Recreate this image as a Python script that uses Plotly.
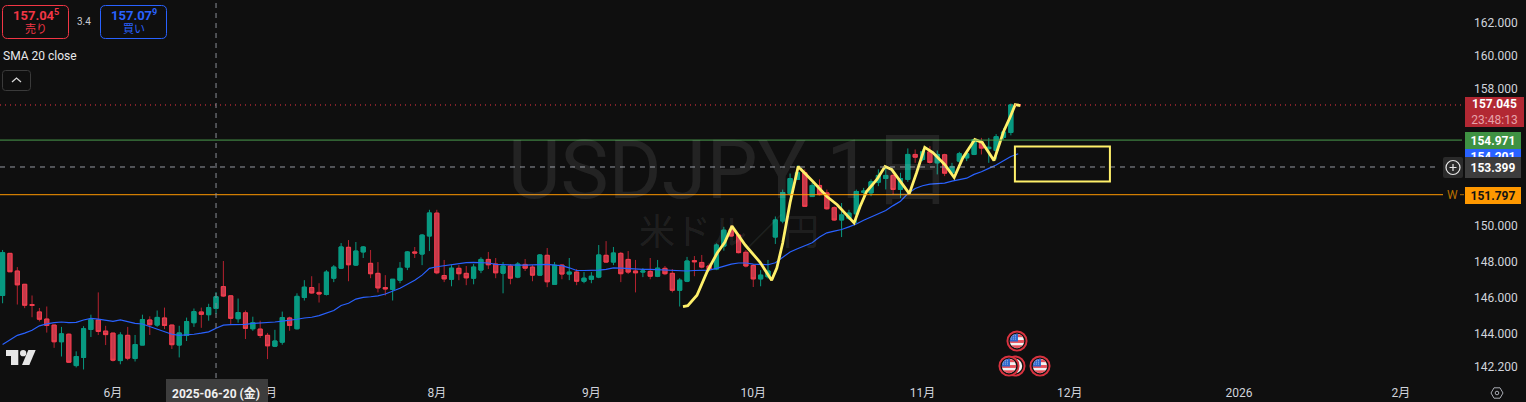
import base64
import plotly.graph_objects as go

W, H = 1526, 402
PW, PH = 1462, 378

highs = [148.65,148.47,147.69,146.73,146.11,145.42,145.50,144.50,144.38,144.02,143.05,144.42,145.05,146.28,144.44,144.05,144.09,144.38,143.94,145.05,
144.96,145.28,145.44,144.50,144.44,144.89,145.39,145.44,145.65,146.30,148.03,146.11,145.94,145.28,144.94,144.72,144.05,144.22,145.22,144.94,
146.23,146.96,147.18,146.79,147.52,147.80,149.04,149.21,149.10,148.87,148.65,147.97,147.24,147.01,147.97,148.59,148.82,149.55,150.93,150.93,
148.09,147.80,147.80,147.75,147.86,148.24,148.54,148.20,147.97,147.86,147.97,148.14,147.80,148.42,148.76,147.97,147.86,148.20,147.58,147.41,
147.41,148.93,149.15,148.82,148.54,148.59,148.09,147.63,148.20,148.09,147.75,147.58,147.07,148.26,148.31,148.37,147.90,149.02,149.96,150.06,
149.59,148.65,147.86,147.52,148.09,150.55,152.09,153.02,153.49,153.26,152.48,152.68,152.09,151.13,151.32,150.93,152.09,152.19,152.68,153.26,
153.45,153.16,153.06,154.48,154.42,154.42,154.61,154.36,154.17,153.64,154.28,154.32,155.00,155.10,155.10,155.32,155.67,157.13,157.13]
body_tops = [148.50,148.46,147.47,146.73,145.61,145.20,144.81,144.48,144.00,143.98,142.77,144.28,144.78,144.76,144.15,144.04,143.94,143.92,143.42,144.78,
144.76,144.90,144.87,144.48,144.05,144.67,145.22,145.20,145.44,146.04,146.60,146.09,145.17,145.15,144.61,144.26,143.92,143.61,144.89,144.87,
146.06,146.57,146.55,146.28,147.41,147.69,148.82,148.80,148.59,148.82,147.90,147.34,146.55,147.01,147.62,148.54,148.54,149.49,150.75,150.74,
147.22,147.63,147.62,147.34,147.69,148.12,148.12,147.86,147.75,147.75,147.86,147.84,147.69,148.37,148.35,147.80,147.80,147.41,147.41,147.07,
147.18,148.37,148.35,148.48,148.46,148.12,147.47,147.47,147.45,147.63,147.62,147.34,146.96,148.03,148.05,147.95,147.75,148.93,149.77,149.81,
149.49,148.52,147.78,147.24,147.47,150.35,151.92,152.73,153.06,153.06,152.33,152.33,151.90,151.05,150.64,150.74,151.98,152.00,152.54,152.91,
152.91,152.91,152.73,154.13,154.13,154.28,154.28,154.13,154.11,153.43,154.17,154.17,155.00,154.85,154.55,155.17,155.44,157.05,157.07]
body_bottoms = [146.11,147.43,146.70,145.57,145.56,144.80,144.46,143.57,143.57,142.46,142.28,142.72,144.24,144.13,143.96,142.57,142.55,142.68,142.66,143.39,
144.50,144.48,144.46,143.41,143.39,143.91,144.61,145.07,145.05,145.39,146.08,144.85,144.83,144.30,144.28,143.91,143.35,143.33,143.55,144.46,
144.28,146.00,146.25,146.19,146.17,147.07,147.63,147.82,147.80,148.54,147.32,146.53,146.47,146.45,146.96,147.69,148.48,148.42,149.44,147.37,
147.03,147.01,147.32,147.09,147.07,147.52,147.82,147.37,147.35,147.07,147.13,147.63,147.24,147.24,146.87,146.73,147.30,147.30,146.90,146.90,
147.01,147.13,147.97,147.97,147.32,147.41,147.37,147.41,147.18,147.18,147.32,146.40,146.40,146.90,147.99,147.69,147.56,147.58,148.87,149.44,
148.50,147.75,147.03,147.03,147.15,149.38,150.29,151.86,152.68,151.13,151.69,151.80,150.99,150.35,150.35,150.45,150.70,151.94,151.90,152.52,
152.73,152.10,152.10,152.68,153.97,153.84,153.66,153.64,153.04,153.06,153.74,153.93,154.13,154.50,154.47,154.36,155.13,155.42,157.03]
lows = [145.68,147.42,145.61,145.41,144.91,144.68,144.07,143.24,142.77,142.42,142.18,142.07,143.83,143.94,143.39,142.50,142.35,142.57,142.50,143.39,
143.94,144.38,144.26,143.18,142.72,143.61,144.38,144.33,144.72,145.09,146.02,144.50,144.61,143.72,144.17,143.78,142.63,143.28,143.41,144.17,
144.24,145.83,146.21,145.72,146.11,146.85,147.58,146.90,147.75,148.20,147.07,146.28,146.11,145.83,146.79,147.52,148.20,147.80,148.59,147.29,
146.85,146.62,146.96,146.68,146.73,147.35,147.58,147.07,146.23,146.73,147.07,147.47,146.90,147.24,146.57,146.73,147.01,146.96,146.68,146.79,
146.79,147.07,147.92,147.80,146.85,147.30,146.28,147.13,147.01,147.13,147.24,146.28,145.50,146.85,147.18,147.62,147.52,147.52,148.61,149.40,
148.46,147.67,146.58,146.62,147.05,148.99,150.16,151.71,152.68,151.09,151.67,151.75,150.93,150.29,149.38,150.35,150.16,151.61,151.71,152.29,
152.10,151.81,151.61,152.54,153.64,153.74,153.59,152.97,152.87,152.97,153.64,153.74,154.09,154.13,153.64,153.84,155.00,155.25,157.02]
# G = close above open, R = close below open
directions = ("GRRRRRRRGRGGGRRRGRGGRGRRGGGRGGRRGRGRRGGRGGRRGGGRGGRRRGGGRGGRRGRRGGRRGRGRRGRGRGRGGGRGRRRGRGRRGGRRRGGRRRRGGGGGGRGRRRGGGGGGGRGGRGRGRGGGGRGGGGR")
sma_20 = [143.42,143.65,143.92,144.04,144.20,144.44,144.55,144.61,144.65,144.61,144.63,144.76,144.85,144.81,144.74,144.68,144.76,144.68,144.57,144.54,
144.39,144.26,144.13,143.98,143.92,143.94,143.98,144.04,144.11,144.31,144.48,144.50,144.50,144.52,144.57,144.59,144.61,144.65,144.70,144.74,
144.80,144.87,144.91,145.00,145.13,145.28,145.56,145.68,145.91,146.00,146.04,146.09,146.19,146.36,146.51,146.73,146.96,147.24,147.62,147.71,
147.77,147.86,147.90,147.94,147.95,147.95,147.92,147.84,147.82,147.79,147.80,147.80,147.82,147.86,147.84,147.80,147.77,147.65,147.50,147.50,
147.50,147.52,147.56,147.65,147.63,147.60,147.58,147.56,147.56,147.54,147.52,147.50,147.48,147.47,147.50,147.50,147.52,147.62,147.75,147.86,
147.92,147.92,147.86,147.84,147.82,147.93,148.24,148.54,148.72,148.87,149.06,149.38,149.62,149.72,149.81,149.96,150.12,150.33,150.51,150.72,
150.89,151.17,151.42,151.86,152.15,152.31,152.41,152.44,152.46,152.58,152.66,152.75,152.97,153.12,153.32,153.51,153.76,154.01,154.17]
bar_index = list(range(len(highs)))

zigzag_bars = [92.45,93.1,94.35,95.7,97.1,98.15,99.1,100.9,102.9,104.5,105.2,106.0,107.0,107.5,108.1,110.1,112.0,113.4,115.7,116.5,117.4,118.8,119.9,120.8,123.2,124.2,125.3,126.4,128.0,129.3,130.5,132.1,133.1,134.7,136.0,136.9,137.6,138.3]
zigzag_prices = [145.50,145.55,146.12,147.41,148.48,149.10,150.00,148.93,147.97,146.96,147.64,149.04,151.34,152.21,153.43,152.56,151.69,151.22,150.18,151.11,151.98,152.68,153.43,153.26,151.86,153.08,154.54,154.24,153.55,152.79,153.95,155.00,154.83,153.78,155.46,156.32,157.07,157.01]
box_bars = [137.55, 150.46]
box_prices = [152.56, 154.59]

current_price = 157.045
green_level = 154.971
sma_label = 154.201
cross_price = 153.399
weekly_level = 151.797
cross_bar = 29

y_tick_values = [162, 160, 158, 150, 148, 146, 144, 142.2]
y_tick_labels = ["162.000", "160.000", "158.000", "150.000", "148.000", "146.000", "144.000", "142.200"]
x_tick_bars = [15, 36, 59, 80, 102, 125, 145, 168, 190]
x_tick_labels = ["6月", "7月", "8月", "9月", "10月", "11月", "12月", "2026", "2月"]

BG = "#0f0f0f"
GREEN = "#089981"
YELLOW = "#fff06a"
FONT = "Roboto, 'Noto Sans CJK JP', sans-serif"
TEXT = "#d1d4dc"


def px(x):
    return x / PW


def py(y):
    return 1 - y / PH


def rr(x0, y0, x1, y1, r=4):
    a, b, c, d = px(x0), py(y0), px(x1), py(y1)
    rx, ry = r / PW, r / PH
    return (f"M{a+rx},{b} L{c-rx},{b} Q{c},{b} {c},{b-ry} L{c},{d+ry} Q{c},{d} {c-rx},{d} "
            f"L{a+rx},{d} Q{a},{d} {a},{d+ry} L{a},{b-ry} Q{a},{b} {a+rx},{b} Z")


def poly(points):
    return "M" + " L".join(f"{px(x)},{py(y)}" for x, y in points) + " Z"


shapes = []


def add_path(path, fill="rgba(0,0,0,0)", line=None, width=1):
    shapes.append(dict(type="path", path=path, xref="paper", yref="paper", fillcolor=fill,
                       line=dict(color=line or "rgba(0,0,0,0)", width=width if line else 0), layer="above"))


def hline(price, color, x1=PW, dash="solid", x0=0, width=1):
    shapes.append(dict(type="line", xref="paper", yref="y", x0=px(x0), x1=px(x1), y0=price, y1=price,
                       line=dict(color=color, width=width, dash=dash), layer="above"))


annotations = []


def text(t, x, y, size=12, color=TEXT, anchor="center", **kw):
    annotations.append(dict(text=t, xref="paper", yref="paper", x=px(x), y=py(y), showarrow=False, xanchor=anchor,
                            yanchor="middle", font=dict(size=size, color=color, family=FONT), borderpad=0,
                            borderwidth=0, **kw))


def tag(t, y, h, bg, color="#ffffff", x0=1465, x1=1521, size=12):
    text(t, (x0 + x1) / 2, y, size, color, bgcolor=bg, width=x1 - x0, height=h, align="center", valign="middle")


def flag_svg(crescent=False):
    if crescent:
        body = ('<circle cx="12" cy="12" r="10" fill="#111" stroke="#d8323f" stroke-width="2"/>'
                '<circle cx="12" cy="12" r="7.5" fill="#f4f4f4"/><circle cx="8" cy="12" r="7.5" fill="#111"/>')
    else:
        body = ('<defs><clipPath id="c"><circle cx="12" cy="12" r="7.5"/></clipPath></defs>'
                '<circle cx="12" cy="12" r="10" fill="#111" stroke="#d8323f" stroke-width="2"/>'
                '<g clip-path="url(#c)"><rect width="24" height="24" fill="#f2f2f2"/>'
                '<rect x="4" y="5" width="16" height="3" fill="#e8505b"/>'
                '<rect x="4" y="11" width="16" height="3" fill="#e8505b"/>'
                '<rect x="4" y="16.5" width="16" height="3.5" fill="#e8505b"/>'
                '<rect x="4" y="4" width="9" height="8.5" fill="#2b66cc"/>'
                '<path d="M6 6h6M6 8h6M6 10h6" stroke="#b8cdf0" stroke-width="0.9" stroke-dasharray="1 1"/></g>')
    svg = f'<svg xmlns="http://www.w3.org/2000/svg" width="24" height="24" viewBox="0 0 24 24">{body}</svg>'
    return "data:image/svg+xml;base64," + base64.b64encode(svg.encode()).decode()


def image(source, x, y):
    return dict(source=source, xref="paper", yref="paper", x=px(x), y=py(y), sizex=23 / PW, sizey=23 / PH,
                xanchor="center", yanchor="middle", sizing="stretch", layer="above")


opens = [b if d == "G" else t for t, b, d in zip(body_tops, body_bottoms, directions)]
closes = [t if d == "G" else b for t, b, d in zip(body_tops, body_bottoms, directions)]

fig = go.Figure()
fig.add_trace(go.Candlestick(x=bar_index, open=opens, high=highs, low=lows, close=closes, hoverinfo="skip",
                             increasing=dict(line=dict(color=GREEN, width=1), fillcolor=GREEN),
                             decreasing=dict(line=dict(color="#b5222f", width=1), fillcolor="#b5222f")))
fig.add_trace(go.Candlestick(x=bar_index, open=opens, high=body_tops, low=body_bottoms, close=closes, hoverinfo="skip",
                             increasing=dict(line=dict(color=GREEN, width=1), fillcolor=GREEN),
                             decreasing=dict(line=dict(color="#f23f50", width=1), fillcolor="#c43a4a")))
fig.add_trace(go.Scatter(x=bar_index, y=sma_20, mode="lines", hoverinfo="skip",
                         line=dict(color="#2962ff", width=1.2)))
fig.add_trace(go.Scatter(x=zigzag_bars, y=zigzag_prices, mode="lines", hoverinfo="skip",
                         line=dict(color=YELLOW, width=2.8)))

# level lines
hline(current_price, "#f23645", dash="1px,4px")
hline(green_level, "#4a9e4e")
hline(cross_price, "#9598a1", x1=1440, dash="5px,5px")
hline(weekly_level, "#ff9800", x1=1443)
hline(weekly_level, "#b87000", x0=1460, x1=1464)
shapes.append(dict(type="line", xref="x", yref="paper", x0=cross_bar, x1=cross_bar, y0=0, y1=1,
                   line=dict(color="#8a8d96", width=1, dash="5px,5px"), layer="above"))
shapes.append(dict(type="rect", xref="x", yref="y", x0=box_bars[0], x1=box_bars[1], y0=box_prices[0], y1=box_prices[1],
                   line=dict(color=YELLOW, width=2), fillcolor="rgba(0,0,0,0)", layer="above"))

# watermark
text("USDJPY 1日", 730, 170, 81, "rgba(255,255,255,0.085)")
text("米ドル／円", 729, 233, 36, "rgba(255,255,255,0.085)")

# top-left panels
add_path(rr(2.5, 5.5, 68.5, 38.5, 5), line="#f23645")
add_path(rr(100.5, 5.5, 166.5, 38.5, 5), line="#2962ff")
text("<b>157.04<sup>5</sup></b>", 35.5, 15, 13, "#f23645")
text("売り", 35.5, 29, 11, "#f23645")
text("<b>157.07<sup>9</sup></b>", 133.5, 15, 13, "#2962ff")
text("買い", 133.5, 29, 11, "#2962ff")
text("3.4", 84, 21, 10, "#c9cbd2")
text("SMA 20 close", 3, 56, 12, "#e8e8ea", anchor="left")
add_path(rr(2.5, 70.5, 30.5, 90.5, 3), line="#3a3a3a")
shapes.append(dict(type="path", path=f"M{px(12)},{py(82)} L{px(16.5)},{py(78)} L{px(21)},{py(82)}", xref="paper",
                   yref="paper", line=dict(color="#d8d8d8", width=1.3), layer="above"))

# TradingView mark
add_path(poly([(6, 350), (18.3, 350), (18.3, 365), (11, 365), (11, 356), (6, 356)]), fill="#e6e6e6")
add_path(poly([(28.3, 350), (35.7, 350), (29.3, 365), (22, 365)]), fill="#e6e6e6")
shapes.append(dict(type="circle", xref="paper", yref="paper", x0=px(20), x1=px(26.3), y0=py(350), y1=py(356.3),
                   fillcolor="#e6e6e6", line=dict(width=0), layer="above"))

# crosshair pieces and right-hand labels
add_path(rr(1443, 157, 1463, 178, 2), fill="#2a2a2a")
shapes.append(dict(type="circle", xref="paper", yref="paper", x0=px(1446), x1=px(1460), y0=py(160.5), y1=py(174.5),
                   line=dict(color="#e8e8e8", width=1.2), layer="above"))
shapes.append(dict(type="path", xref="paper", yref="paper", line=dict(color="#e8e8e8", width=1.2), layer="above",
                   path=f"M{px(1449.5)},{py(167.5)} L{px(1456.5)},{py(167.5)} M{px(1453)},{py(164)} L{px(1453)},{py(171)}"))
text("W", 1452, 195, 12, "#b87000")

tag(f"<b>{current_price:.3f}</b><br><span style='color:#e6a3aa'>23:48:13</span>", 112, 30, "#b22833", x1=1524)
tag(f"<b>{sma_label:.3f}</b>", 156, 17, "#2962ff")
tag(f"<b>{green_level:.3f}</b>", 140.5, 17, "#3f9243")
tag(f"<b>{cross_price:.3f}</b>", 167.5, 21, "#3d3d3d")
tag(f"<b>{weekly_level:.3f}</b>", 195.5, 17, "#ff9800", color="#131313")

# date tag on the time axis
add_path(rr(166, 379, 268, 404, 0), fill="#3d3d3d")
text("<b>2025-06-20 (金)</b>", 216, 393, 12, "#f0f0f0")

# gear at the axis corner
add_path(poly([(1491, 393), (1494, 387.8), (1500, 387.8), (1503, 393), (1500, 398.2), (1494, 398.2)]),
         line="#a8abb3")
shapes.append(dict(type="circle", xref="paper", yref="paper", x0=px(1495.2), x1=px(1498.8), y0=py(391.2), y1=py(394.8),
                   line=dict(color="#a8abb3", width=1), layer="above"))

images = [image(flag_svg(True), 1015, 366), image(flag_svg(), 1009, 366),
          image(flag_svg(), 1040, 366), image(flag_svg(), 1017, 341)]

fig.update_layout(
    width=W, height=H, margin=dict(l=0, r=W - PW, t=0, b=H - PH, pad=0, autoexpand=False),
    paper_bgcolor=BG, plot_bgcolor=BG, showlegend=False, boxgap=0.2, hovermode=False,
    font=dict(family=FONT, color=TEXT, size=12), shapes=shapes, annotations=annotations, images=images,
    xaxis=dict(range=[-0.353, 198.3], rangeslider=dict(visible=False), showgrid=False, zeroline=False, showline=False,
               tickmode="array", tickvals=x_tick_bars, ticktext=x_tick_labels, ticks="", ticklabelstandoff=6,
               tickfont=dict(size=12, color=TEXT, family=FONT)),
    yaxis=dict(type="log", range=[2.1511, 2.2133], side="right", showgrid=False, zeroline=False, showline=False,
               tickmode="array", tickvals=y_tick_values, ticktext=y_tick_labels, ticks="", ticklabelstandoff=11,
               tickfont=dict(size=12, color=TEXT, family=FONT)),
)

fig.write_html("out.html", config=dict(displayModeBar=False),
               post_script="document.body.style.margin='0';document.body.style.overflow='hidden';")
